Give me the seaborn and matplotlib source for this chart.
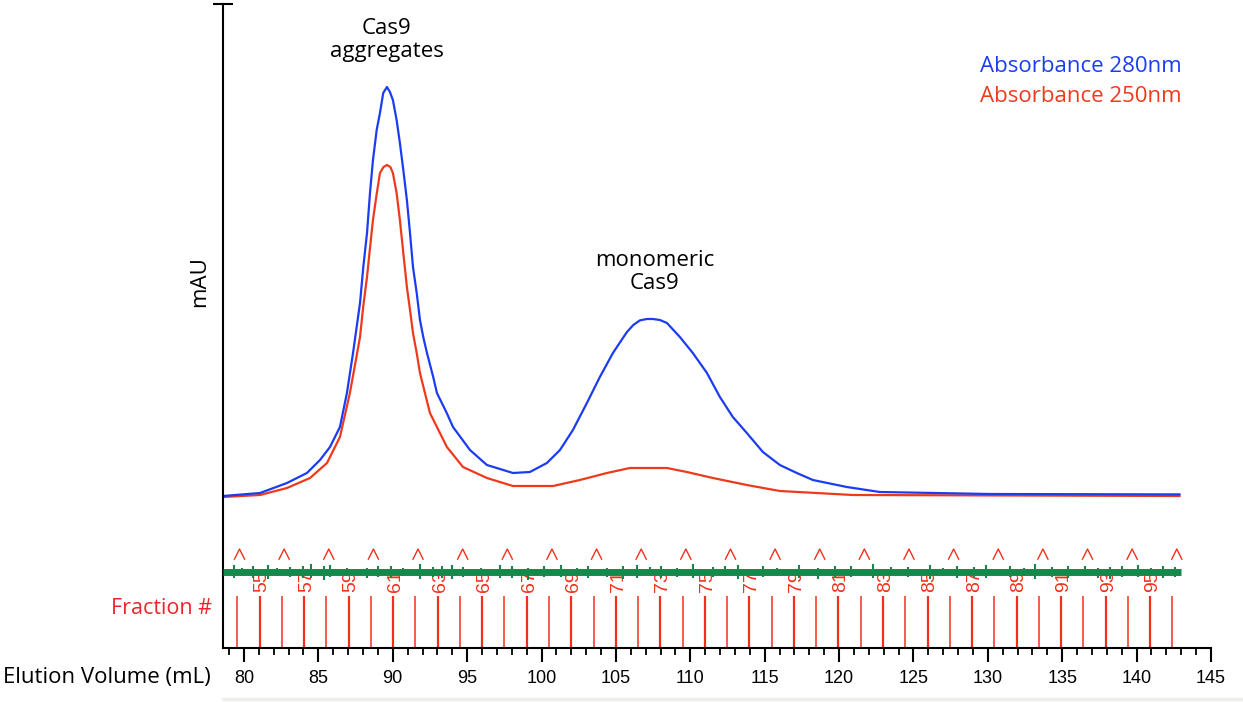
import numpy as np
import pandas as pd
import matplotlib
matplotlib.use("Agg")
import matplotlib.pyplot as plt
from matplotlib.path import Path
from matplotlib.lines import Line2D
import seaborn as sns

# ---------------- data ----------------
blue_ml = [78.59, 81.08, 82.89, 84.23, 85.11, 85.78, 86.45, 86.92, 87.33, 87.80,
           88.02, 88.27, 88.47, 88.67, 88.92, 89.14, 89.36, 89.61, 89.81, 90.01,
           90.26, 90.48, 90.71, 90.95, 91.16, 91.36, 91.61, 91.83, 92.05, 92.30,
           92.72, 92.97, 93.63, 94.05, 95.19, 96.33, 98.08, 99.22, 100.36, 101.24,
           102.11, 103.05, 103.92, 104.80, 105.74, 106.17, 106.61, 107.07, 107.49,
           107.96, 108.43, 109.30, 110.17, 111.12, 111.99, 112.86, 113.80, 114.88,
           116.02, 117.16, 118.24, 120.52, 122.74, 130.13, 142.90]
blue_mau = [0.0, 0.75, 3.25, 5.75, 9.0, 12.25, 17.25, 25.75, 35.75, 48.25,
            57.25, 65.75, 75.75, 84.0, 91.5, 95.75, 100.75, 102.25, 101.0, 99.0,
            94.0, 88.25, 81.5, 74.0, 65.75, 57.25, 50.75, 44.0, 39.75, 35.75,
            29.75, 25.75, 20.75, 17.25, 11.5, 7.75, 5.75, 6.0, 8.25, 11.5,
            16.5, 23.25, 29.75, 35.75, 41.0, 42.75, 43.9, 44.25, 44.25,
            44.0, 43.25, 39.75, 35.75, 30.75, 24.75, 19.75, 15.75, 11.0,
            7.75, 5.75, 4.0, 2.25, 1.0, 0.5, 0.4]

red_ml = [78.59, 81.08, 82.89, 84.44, 85.58, 86.45, 87.12, 87.80, 88.02, 88.27,
          88.47, 88.67, 88.92, 89.14, 89.38, 89.61, 89.84, 90.01, 90.26, 90.48,
          90.71, 90.95, 91.16, 91.36, 91.61, 91.83, 92.28, 92.50, 93.64, 94.72,
          96.33, 98.08, 100.77, 102.58, 104.40, 105.94, 108.43, 109.77, 111.52,
          113.80, 116.02, 120.93, 142.90]
red_mau = [-0.25, 0.25, 2.0, 4.5, 8.25, 14.75, 25.75, 39.75, 47.5, 54.75,
           62.0, 69.0, 75.5, 80.75, 82.25, 82.75, 82.25, 80.75, 75.75, 69.0,
           60.75, 52.25, 46.5, 40.75, 35.75, 30.75, 24.0, 20.75, 12.25, 7.25,
           4.5, 2.5, 2.5, 4.0, 5.75, 7.0, 7.0, 6.0, 4.5,
           2.75, 1.25, 0.25, 0.0]

fraction_numbers = list(range(54, 97))
fraction_ml = [79.55, 81.05, 82.54, 84.04, 85.54, 87.03, 88.53, 90.03, 91.52, 93.02,
               94.52, 96.01, 97.51, 99.01, 100.50, 102.00, 103.50, 104.99, 106.49,
               107.99, 109.48, 110.98, 112.48, 113.97, 115.47, 116.97, 118.46,
               119.96, 121.46, 122.95, 124.45, 125.95, 127.44, 128.94, 130.44,
               131.93, 133.43, 134.93, 136.42, 137.92, 139.42, 140.91, 142.41]

caret_ml = [79.7, 82.7, 85.7, 88.7, 91.7, 94.7, 97.7, 100.7, 103.7, 106.7, 109.7,
            112.7, 115.7, 118.7, 121.7, 124.7, 127.7, 130.7, 133.7, 136.7, 139.7,
            142.7]

green_ml = [78.59, 142.95]
green_mau = [-19.1, -19.1]
spike_ml = [79.3, 79.9, 80.6, 81.6, 82.2, 83.1, 84.0, 84.5, 85.4, 85.8, 86.9, 88.3,
            89.0, 89.9, 90.7, 91.8, 92.7, 93.3, 94.0, 94.7, 95.9, 97.2, 98.0, 99.1,
            100.2, 101.3, 102.4, 103.1, 104.4, 105.5, 106.4, 107.3, 108.0, 109.1,
            110.2, 111.5, 112.3, 113.2, 114.9, 115.8, 117.3, 118.6, 119.7, 120.8,
            122.3, 123.5, 124.6, 126.1, 127.0, 127.9, 129.1, 129.9, 131.5, 132.4,
            133.2, 134.3, 135.4, 136.5, 137.4, 138.2, 139.0, 140.1, 141.0, 141.8,
            142.6]
spike_top = [-17.3, -18.0, -17.6, -17.2, -18.1, -17.8, -17.5, -17.0, -17.6, -17.2,
             -18.0, -17.9, -17.5, -17.4, -18.0, -17.1, -17.8, -17.6, -17.3, -17.7,
             -18.1, -17.2, -17.6, -17.9, -17.5, -17.3, -18.0, -17.5, -17.9, -17.4,
             -17.2, -17.8, -17.6, -18.0, -17.1, -17.8, -17.5, -17.3, -17.6, -18.0,
             -17.2, -17.9, -17.6, -17.4, -17.0, -17.8, -17.7, -17.3, -18.0, -17.6,
             -17.8, -17.2, -17.5, -17.9, -17.1, -17.8, -17.5, -17.4, -18.0, -17.7,
             -17.6, -17.3, -17.9, -17.6, -17.8]
spike_bottom = [-20.6, -20.0, -20.4, -20.8, -20.1, -20.3, -20.6, -20.5, -20.9, -20.2,
                -20.1, -20.6, -20.3, -20.4, -20.0, -20.8, -20.3, -20.5, -20.7, -20.2,
                -20.1, -20.6, -20.4, -20.9, -20.2, -20.3, -20.0, -20.5, -20.2, -20.8,
                -20.4, -20.1, -20.6, -20.3, -20.6, -20.3, -20.1, -20.7, -20.2, -20.0,
                -20.5, -20.8, -20.2, -20.3, -20.6, -20.1, -20.2, -20.7, -20.0, -20.4,
                -20.2, -20.6, -20.2, -20.1, -20.8, -20.3, -20.5, -20.0, -20.4, -20.7,
                -20.2, -20.3, -20.1, -20.6, -20.2]

x_major = [80, 85, 90, 95, 100, 105, 110, 115, 120, 125, 130, 135, 140, 145]

# ---------------- style ----------------
sns.set_theme(style="white")
plt.rcParams["font.family"] = ["Open Sans", "DejaVu Sans"]

BLUE = "#1c3cf2"
RED = "#ee3a1c"
FRAC_RED = "#f2301c"
GREEN = "#15894c"

fig = plt.figure(figsize=(12.43, 7.02), dpi=100)
W, H = 1243, 702
ax = fig.add_axes([223 / W, 1 - 648 / H, (1211 - 223) / W, (648 - 4) / H])

df = pd.concat([
    pd.DataFrame({"ml": blue_ml, "mau": blue_mau, "trace": "Absorbance 280nm"}),
    pd.DataFrame({"ml": red_ml, "mau": red_mau, "trace": "Absorbance 250nm"}),
])
sns.lineplot(data=df, x="ml", y="mau", hue="trace", estimator=None, sort=False,
             palette={"Absorbance 280nm": BLUE, "Absorbance 250nm": RED},
             hue_order=["Absorbance 250nm", "Absorbance 280nm"],
             linewidth=1.6, legend=False, ax=ax)

# green noisy trace
ax.plot(green_ml, green_mau, color=GREEN, lw=5.0, solid_capstyle="butt", zorder=3)
ax.vlines(spike_ml, spike_bottom, spike_top, color=GREEN, lw=1.5, zorder=3)

# fraction markers
ymin, ymax = -38, 123
for n, v in zip(fraction_numbers, fraction_ml):
    labeled = (n % 2 == 1)
    ax.vlines(v, ymin, -25.0, color=FRAC_RED, lw=1.6 if labeled else 1.1, zorder=2)
    if labeled:
        ax.text(v + 0.17, -21.2, str(n), rotation=90, ha="center", va="center",
                color=FRAC_RED, fontsize=14, family="Liberation Sans", zorder=2)

caret = Path([(-1, -1), (0, 1), (1, -1)], [Path.MOVETO, Path.LINETO, Path.LINETO])
ax.scatter(caret_ml, [-14.6] * len(caret_ml), marker=caret, s=60,
           facecolors="none", edgecolors=FRAC_RED, linewidths=1.0, zorder=3)

ax.set_xlim(78.59, 145)
ax.set_ylim(ymin, ymax)

# axes styling
for s in ["top", "right"]:
    ax.spines[s].set_visible(False)
for s in ["left", "bottom"]:
    ax.spines[s].set_color("black")
    ax.spines[s].set_linewidth(1.5)

ax.set_xticks(x_major)
ax.set_xticks(np.arange(79, 146, 1), minor=True)
ax.tick_params(axis="x", which="major", direction="out", length=10, width=1.5,
               pad=6, labelsize=13, colors="black", bottom=True)
ax.tick_params(axis="x", which="minor", direction="out", length=5, width=1.3,
               colors="black", bottom=True)
for lab in ax.get_xticklabels():
    lab.set_family("Liberation Sans")

ax.set_yticks([ymax])
ax.set_yticklabels([])
ax.tick_params(axis="y", which="major", direction="inout", length=14, width=1.5,
               colors="black", left=True)

ax.set_xlabel("")
ax.set_ylabel("")

# texts
fig.text(3 / W, 1 - 678 / H, "Elution Volume (mL)", ha="left", va="center",
         fontsize=16, color="black")
fig.text(212 / W, 1 - 608 / H, "Fraction #", ha="right", va="center",
         fontsize=15.5, color="#e8262b")
fig.text(200 / W, 1 - 282 / H, "mAU", ha="center", va="center", rotation=90,
         fontsize=16, color="black")
ax.text(89.6, 114.0, "Cas9\naggregates", ha="center", va="center", fontsize=16,
        linespacing=1.15, color="black")
ax.text(107.6, 56.0, "monomeric\nCas9", ha="center", va="center", fontsize=16,
        linespacing=1.15, color="black")
fig.text(980 / W, 1 - 66 / H, "Absorbance 280nm", ha="left", va="center",
         fontsize=16, color=BLUE)
fig.text(980 / W, 1 - 97 / H, "Absorbance 250nm", ha="left", va="center",
         fontsize=16, color=RED)

fig.add_artist(Line2D([223 / W, 1.0], [1 - 699 / H, 1 - 699 / H],
                      transform=fig.transFigure, color="#ededea", lw=2.5))

fig.savefig("out.png", dpi=100, facecolor="white")
